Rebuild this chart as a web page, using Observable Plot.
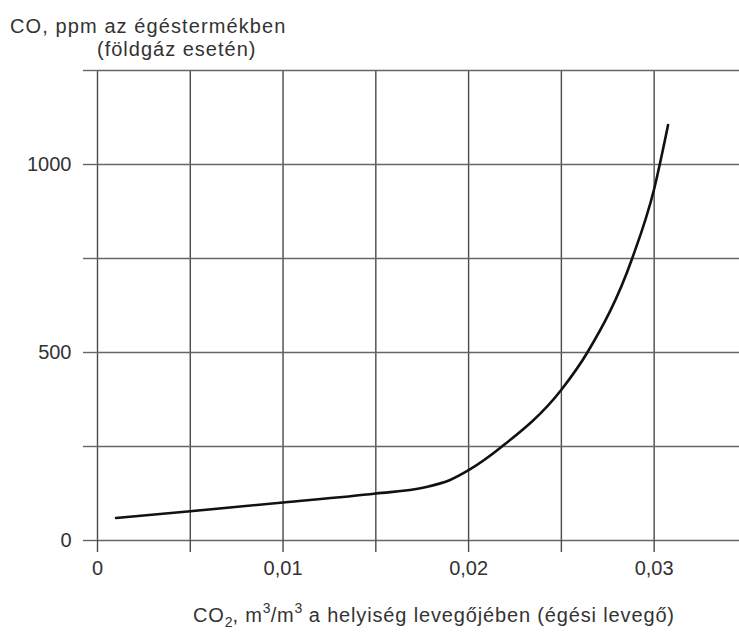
<!DOCTYPE html>
<html><head><meta charset="utf-8">
<script src="https://cdn.jsdelivr.net/npm/d3@7"></script>
<script src="https://cdn.jsdelivr.net/npm/@observablehq/plot@0.6"></script>
<style>
body{margin:0;background:#fff;}
#wrap{position:relative;width:739px;height:633px;font-family:"Liberation Sans",Arial,sans-serif;color:#333;overflow:hidden;}
#chart{position:absolute;left:0;top:0;}
.t{position:absolute;white-space:nowrap;font-size:20px;letter-spacing:1px;line-height:1;z-index:2;}
.t sub{font-size:14px;vertical-align:-5px;line-height:0;letter-spacing:0;}
.t sup{font-size:14px;vertical-align:9px;line-height:0;letter-spacing:0;}
</style></head><body>
<div id="wrap">
<div id="chart"></div>
<div class="t" style="left:10px;top:16px;letter-spacing:1.1px;">CO, ppm az égéstermékben</div>
<div class="t" style="left:97px;top:39px;">(földgáz esetén)</div>
<div class="t" style="left:193px;top:605px;letter-spacing:0.85px;">CO<sub>2</sub>, m<sup>3</sup>/m<sup>3</sup> a helyiség levegőjében (égési levegő)</div>
</div>
<script>
// CO2 concentration in room air (m3/m3)
const co2 = [0.001, 0.005, 0.010, 0.015, 0.0176, 0.0190, 0.0200, 0.0218, 0.0250, 0.0264, 0.0288, 0.0300, 0.03075];
// CO in flue gas (ppm)
const co  = [60, 78, 101, 125, 141, 161, 187, 250, 401, 500, 748, 935, 1105];

const xTicks = [0, 0.005, 0.01, 0.015, 0.02, 0.025, 0.03];
const xLabelValues = [0, 0.01, 0.02, 0.03];
const xLabelTexts = ["0", "0,01", "0,02", "0,03"];
const yTicks = [0, 250, 500, 750, 1000, 1250];
const yLabelValues = [0, 500, 1000];
const yLabelTexts = ["0", "500", "1000"];

const data = co2.map((x, i) => ({x, y: co[i]}));
const xFmt = d => { const i = xLabelValues.indexOf(d); return i < 0 ? "" : xLabelTexts[i]; };
const yFmt = d => { const i = yLabelValues.indexOf(d); return i < 0 ? "" : yLabelTexts[i]; };

const chart = Plot.plot({
  width: 739, height: 633,
  marginTop: 70, marginLeft: 97, marginRight: 0, marginBottom: 93,
  x: {domain: [0, 0.0346]},
  y: {domain: [0, 1250]},
  style: {fontFamily: "Liberation Sans, Arial, sans-serif", fontSize: "20px", color: "#333", background: "transparent", overflow: "visible"},
  marks: [
    Plot.gridX(xTicks, {stroke: "#4a4a4a", strokeOpacity: 1, strokeWidth: 1.4}),
    Plot.gridY(yTicks, {stroke: "#666", strokeOpacity: 1, strokeWidth: 1.4}),
    Plot.axisX(xTicks, {tickSize: 12, tickPadding: 8, tickFormat: xFmt, stroke: "#4a4a4a", strokeWidth: 1.4, label: null}),
    Plot.axisY(yTicks, {tickSize: 14, tickPadding: 12, tickFormat: yFmt, stroke: "#666", strokeWidth: 1.4, label: null}),
    Plot.line(data, {x: "x", y: "y", curve: "monotone-x", stroke: "#111", strokeWidth: 2.6})
  ]
});
document.getElementById("chart").appendChild(chart);
</script>
</body></html>
